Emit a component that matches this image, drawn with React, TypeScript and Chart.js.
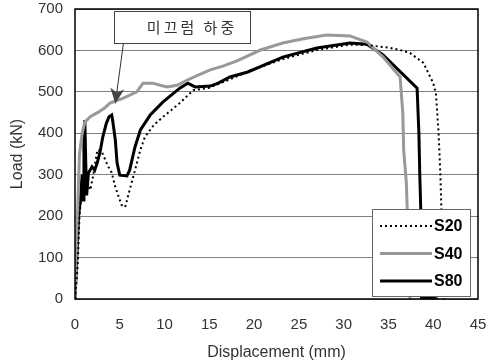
import React, { useEffect, useRef } from 'react';
import { Chart, registerables } from 'chart.js';

Chart.register(...registerables);

// ---- data (displacement mm, load kN) ----
const s20X = [0, 0.3, 0.5, 0.8, 1.2, 1.7, 2.0, 2.5, 3.0, 3.3, 3.7, 4.1, 4.5, 5.2, 5.6, 6.1, 6.7, 7.3, 7.8, 8.8, 9.8, 11.7, 13.2, 15.0, 17.3, 19.5, 23.2, 27.0, 30.7, 32.6, 35.2, 36.3, 37.4, 38.9, 40.0, 40.3, 40.6, 40.8, 41.0, 41.2];
const s20Y = [0, 80, 200, 270, 290, 263, 295, 360, 355, 340, 320, 305, 270, 227, 222, 263, 311, 360, 391, 420, 439, 473, 504, 510, 530, 551, 579, 601, 614, 613, 606, 601, 594, 570, 521, 497, 400, 300, 150, 0];

const s40X = [0, 0.2, 0.5, 0.8, 1.1, 1.7, 2.6, 3.3, 3.9, 5.4, 6.9, 7.6, 8.7, 9.5, 10.3, 11.4, 12.5, 13.5, 15.1, 16.5, 18.1, 20.7, 23.2, 25.5, 28.1, 30.7, 32.6, 34.4, 36.3, 36.6, 36.7, 37.0, 37.2, 37.4];
const s40Y = [0, 150, 350, 400, 427, 440, 451, 461, 473, 485, 500, 521, 521, 516, 512, 516, 528, 538, 553, 562, 575, 601, 618, 628, 637, 635, 620, 584, 536, 450, 360, 280, 150, 0];

const s80X = [0, 0.2, 0.4, 0.6, 0.8, 0.9, 1.0, 1.1, 1.2, 1.3, 1.5, 1.9, 2.2, 2.5, 2.8, 3.1, 3.5, 3.8, 4.1, 4.2, 4.5, 4.7, 5.0, 5.8, 6.1, 6.7, 7.3, 8.4, 9.8, 11.7, 12.6, 13.4, 15.1, 16.0, 17.3, 19.3, 23.2, 27.0, 30.7, 32.6, 34.4, 38.2, 38.4, 38.5, 38.6, 38.7, 39.5, 40.5];
const s80Y = [0, 100, 200, 240, 300, 239, 380, 432, 330, 250, 304, 319, 311, 330, 355, 391, 424, 440, 444, 432, 384, 328, 299, 297, 311, 367, 408, 444, 475, 509, 521, 512, 514, 521, 536, 548, 584, 606, 618, 615, 589, 509, 400, 300, 222, 0, 3, 0];

const seriesNames = ['S20', 'S40', 'S80'];
const xTickValues = [0, 5, 10, 15, 20, 25, 30, 35, 40, 45];
const yTickValues = [0, 100, 200, 300, 400, 500, 600, 700];
const xTitle = 'Displacement (mm)';
const yTitle = 'Load (kN)';
const noteText = '미끄럼 하중';
// note box corners and arrow, in data units
const noteBoxX = [4.35, 19.55];
const noteBoxY = [695, 618];
const noteArrowX = [5.4, 4.5];
const noteArrowY = [616, 472];

const pts = (xs: number[], ys: number[]) => xs.map((x, i) => ({ x, y: ys[i] }));

const framePlugin = {
  id: 'frame',
  afterDatasetsDraw(chart: any) {
    const { ctx, chartArea: a } = chart;
    ctx.save();
    ctx.strokeStyle = '#000';
    ctx.lineWidth = 1.5;
    ctx.strokeRect(a.left, a.top, a.right - a.left, a.bottom - a.top);
    ctx.restore();
  },
};

const notePlugin = {
  id: 'note',
  afterDraw(chart: any) {
    const { ctx, scales } = chart;
    const xs = scales.x, ys = scales.y;
    const x0 = xs.getPixelForValue(noteBoxX[0]);
    const x1 = xs.getPixelForValue(noteBoxX[1]);
    const y0 = ys.getPixelForValue(noteBoxY[0]);
    const y1 = ys.getPixelForValue(noteBoxY[1]);
    ctx.save();
    ctx.fillStyle = '#fff';
    ctx.fillRect(x0, y0, x1 - x0, y1 - y0);
    ctx.strokeStyle = '#444';
    ctx.lineWidth = 1;
    ctx.strokeRect(Math.round(x0) + 0.5, Math.round(y0) + 0.5, Math.round(x1 - x0), Math.round(y1 - y0));
    ctx.fillStyle = '#333';
    ctx.font = '15px "Noto Sans CJK KR"';
    try { (ctx as any).letterSpacing = '3px'; } catch (e) {}
    ctx.textAlign = 'center';
    ctx.textBaseline = 'middle';
    ctx.fillText(noteText, (x0 + x1) / 2 + 10, (y0 + y1) / 2);
    try { (ctx as any).letterSpacing = '0px'; } catch (e) {}
    // arrow
    const ax0 = xs.getPixelForValue(noteArrowX[0]);
    const ay0 = ys.getPixelForValue(noteArrowY[0]);
    const ax1 = xs.getPixelForValue(noteArrowX[1]);
    const ay1 = ys.getPixelForValue(noteArrowY[1]);
    ctx.strokeStyle = '#333';
    ctx.lineWidth = 1;
    ctx.beginPath();
    ctx.moveTo(ax0, ay0);
    ctx.lineTo(ax1, ay1);
    ctx.stroke();
    const ang = Math.atan2(ay1 - ay0, ax1 - ax0);
    const L = 15, W = 7;
    const bx = ax1 - L * Math.cos(ang), by = ay1 - L * Math.sin(ang);
    ctx.fillStyle = '#444';
    ctx.beginPath();
    ctx.moveTo(ax1, ay1);
    ctx.lineTo(bx + W * Math.sin(ang), by - W * Math.cos(ang));
    ctx.lineTo(bx + 4 * Math.cos(ang), by + 4 * Math.sin(ang));
    ctx.lineTo(bx - W * Math.sin(ang), by + W * Math.cos(ang));
    ctx.closePath();
    ctx.fill();
    ctx.restore();
  },
};

const legendPlugin = {
  id: 'customLegend',
  afterDraw(chart: any) {
    const { ctx, chartArea: a } = chart;
    const bx = a.right - 106, by = a.bottom - 90, bw = 98, bh = 87;
    ctx.save();
    ctx.fillStyle = '#fff';
    ctx.fillRect(bx, by, bw, bh);
    ctx.strokeStyle = '#666';
    ctx.lineWidth = 1;
    ctx.strokeRect(Math.round(bx) + 0.5, Math.round(by) + 0.5, bw, bh);
    chart.data.datasets.forEach((ds: any, i: number) => {
      const y = by + 17 + i * 27.5;
      ctx.strokeStyle = ds.borderColor;
      ctx.lineWidth = ds.borderWidth;
      ctx.setLineDash(ds.borderDash || []);
      ctx.beginPath();
      ctx.moveTo(bx + 8, y);
      ctx.lineTo(bx + 60, y);
      ctx.stroke();
      ctx.setLineDash([]);
      ctx.fillStyle = '#000';
      ctx.font = 'bold 16px "Liberation Sans", Arial, sans-serif';
      ctx.textAlign = 'left';
      ctx.textBaseline = 'middle';
      ctx.fillText(seriesNames[i], bx + 62, y + 1);
    });
    ctx.restore();
  },
};

export default function App() {
  const ref = useRef<HTMLCanvasElement>(null);
  useEffect(() => {
    if (!ref.current) return;
    const tickFont = { family: '"Liberation Sans", Arial, sans-serif', size: 15 };
    const titleFont = { family: '"Liberation Sans", Arial, sans-serif', size: 16 };
    const chart = new Chart(ref.current, {
      type: 'line',
      data: {
        datasets: [
          { label: seriesNames[0], data: pts(s20X, s20Y), borderColor: '#000', borderWidth: 2, borderDash: [2, 3], pointRadius: 0, tension: 0, fill: false },
          { label: seriesNames[1], data: pts(s40X, s40Y), borderColor: '#999', borderWidth: 3, pointRadius: 0, tension: 0, fill: false },
          { label: seriesNames[2], data: pts(s80X, s80Y), borderColor: '#000', borderWidth: 3, pointRadius: 0, tension: 0, fill: false },
        ],
      },
      options: {
        responsive: false,
        animation: false,
        layout: { padding: { left: 0, top: 9, right: 10, bottom: 0 } },
        plugins: { legend: { display: false }, tooltip: { enabled: false } },
        scales: {
          x: {
            type: 'linear',
            min: 0,
            max: 45,
            afterBuildTicks: (s: any) => { s.ticks = xTickValues.map((v) => ({ value: v })); },
            afterFit: (s: any) => { s.height = 64; s.paddingLeft = 0; s.paddingRight = 0; },
            grid: { display: false, drawTicks: false },
            border: { display: false },
            ticks: { font: tickFont, color: '#333', padding: 17, maxRotation: 0, autoSkip: false },
            title: { display: true, text: xTitle, font: titleFont, color: '#333', padding: { top: 4, bottom: 1 } },
          },
          y: {
            type: 'linear',
            min: 0,
            max: 700,
            afterBuildTicks: (s: any) => { s.ticks = yTickValues.map((v) => ({ value: v })); },
            afterFit: (s: any) => { s.width = 75; s.paddingTop = 0; s.paddingBottom = 0; },
            grid: { color: '#808080', lineWidth: 1, drawTicks: false },
            border: { display: false },
            ticks: { font: tickFont, color: '#333', padding: 12, autoSkip: false },
            title: { display: true, text: yTitle, font: titleFont, color: '#333', padding: { top: 8, bottom: 4 } },
          },
        },
      },
      plugins: [framePlugin, legendPlugin, notePlugin],
    } as any);
    return () => chart.destroy();
  }, []);
  return (
    <canvas
      ref={ref}
      width={488}
      height={363}
      style={{ position: 'absolute', left: 0, top: 0, display: 'block', background: '#fff' }}
    />
  );
}
